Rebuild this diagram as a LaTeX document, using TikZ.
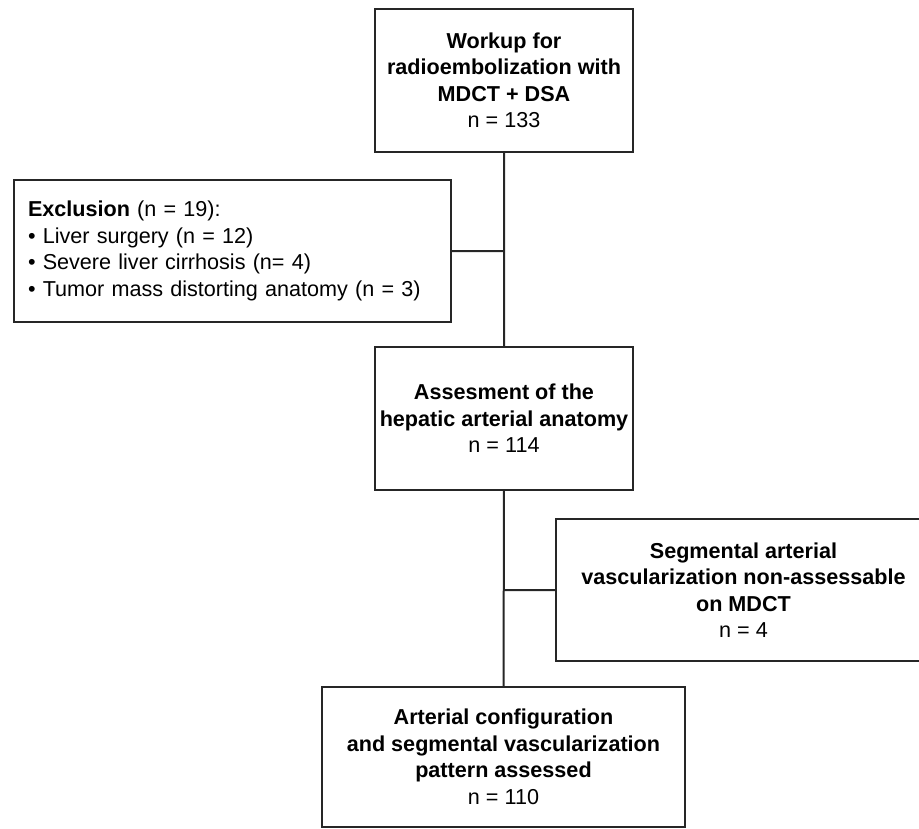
\documentclass[tikz,border=0pt]{standalone}
\usepackage{fontspec}
\setmainfont{Liberation Sans}
\usepackage{tikz}

\tikzset{box/.style={draw=black!85, line width=2pt, inner sep=0pt, align=center,
        font=\fontsize{21.6}{26.5}\selectfont}}

\begin{document}
\begin{tikzpicture}[x=1pt, y=-1pt]
        \useasboundingbox (0,0) rectangle (919,828);
        \node[box, minimum width=258pt, minimum height=143pt] (workup) at (504, 80.5)
            {\textbf{Workup for}\\ \textbf{radioembolization with}\\ \textbf{MDCT + DSA}\\ n = 133};
        \node[box, minimum width=437pt, minimum height=142pt, align=left, text width=409pt] (excl) at (232.5, 251)
            {\textbf{Exclusion} (n = 19):\\ • Liver surgery (n = 12)\\ • Severe liver cirrhosis (n= 4)\\ • Tumor mass distorting anatomy (n = 3)};
        \node[box, minimum width=258pt, minimum height=143pt] (assess) at (504, 418.5)
            {\textbf{Assesment of the}\\ \textbf{hepatic arterial anatomy}\\ n = 114};
        \node[box, minimum width=375pt, minimum height=142pt] (nonass) at (743.5, 590)
            {\textbf{Segmental arterial}\\ \textbf{vascularization non-assessable}\\ \textbf{on MDCT}\\ n = 4};
        \node[box, minimum width=363pt, minimum height=140pt] (final) at (503.5, 757)
            {\textbf{Arterial configuration}\\ \textbf{and segmental vascularization}\\ \textbf{pattern assessed}\\ n = 110};

        \coordinate (j1) at (504, 251);
        \coordinate (j2) at (504, 590);

        \draw[black!85, line width=2pt] (workup) -- (assess)
              (assess) -- (final)
              (excl) -- (j1)
              (nonass) -- (j2);
    \end{tikzpicture}
\end{document}
